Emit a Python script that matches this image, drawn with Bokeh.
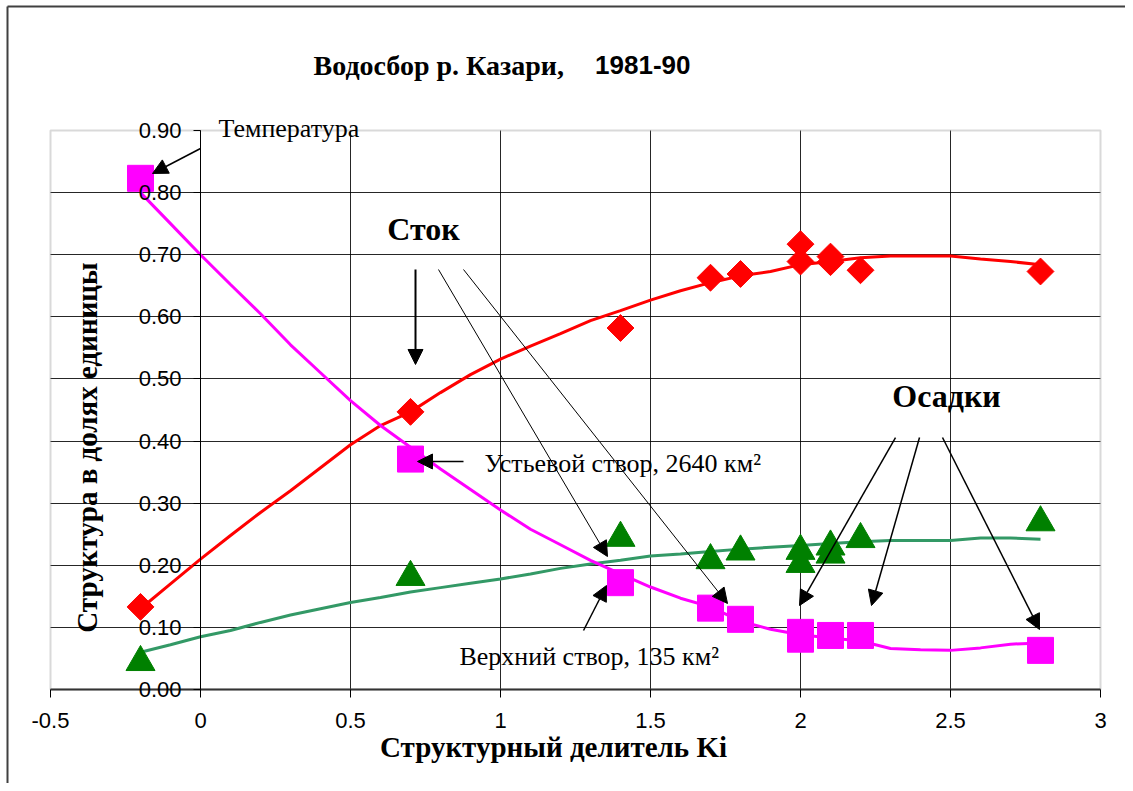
import math
from bokeh.plotting import figure
from bokeh.models import (Range1d, FixedTicker, Label, Arrow, NormalHead,
                          BoxAnnotation, LinearAxis)
from bokeh.embed import file_html
from bokeh.resources import INLINE

# ---------------- data ----------------
x_ticks = [-0.5, 0, 0.5, 1, 1.5, 2, 2.5, 3]
x_tick_labels = ["-0.5", "0", "0.5", "1", "1.5", "2", "2.5", "3"]
y_ticks = [0.0, 0.1, 0.2, 0.3, 0.4, 0.5, 0.6, 0.7, 0.8, 0.9]
y_tick_labels = ["0.00", "0.10", "0.20", "0.30", "0.40", "0.50",
                 "0.60", "0.70", "0.80", "0.90"]

# Сток (runoff) points
stok_x = [-0.2, 0.7, 1.4, 1.7, 1.8, 2.0, 2.0, 2.1, 2.1, 2.2, 2.8]
stok_y = [0.133, 0.447, 0.582, 0.663, 0.669, 0.717, 0.689, 0.697, 0.688, 0.675, 0.673]
# Температура points
temp_x = [-0.2, 0.7, 1.4, 1.7, 1.8, 2.0, 2.0, 2.1, 2.2, 2.8]
temp_y = [0.823, 0.371, 0.172, 0.131, 0.113, 0.092, 0.081, 0.087, 0.087, 0.063]
# Осадки points
osad_x = [-0.2, 0.7, 1.4, 1.7, 1.8, 2.0, 2.0, 2.1, 2.1, 2.2, 2.8]
osad_y = [0.044, 0.181, 0.244, 0.208, 0.222, 0.223, 0.202, 0.230, 0.217, 0.242, 0.269]

# smoothed trend curves
trend_x = [-0.2, -0.1, 0.0, 0.1, 0.2, 0.3, 0.4, 0.5, 0.6, 0.7, 0.8, 0.9, 1.0,
           1.1, 1.2, 1.3, 1.4, 1.5, 1.6, 1.7, 1.8, 1.9, 2.0, 2.1, 2.2, 2.3,
           2.4, 2.5, 2.6, 2.7, 2.8]
stok_trend = [0.13, 0.17, 0.21, 0.248, 0.285, 0.32, 0.357, 0.394, 0.425, 0.447,
              0.478, 0.507, 0.532, 0.553, 0.573, 0.594, 0.61, 0.627, 0.642, 0.655,
              0.666, 0.673, 0.684, 0.689, 0.695, 0.698, 0.698, 0.698, 0.693,
              0.689, 0.684]
temp_trend = [0.80, 0.75, 0.70, 0.652, 0.605, 0.555, 0.51, 0.465, 0.425, 0.39,
              0.355, 0.322, 0.289, 0.258, 0.233, 0.208, 0.186, 0.165, 0.147,
              0.133, 0.11, 0.097, 0.088, 0.083, 0.078, 0.066, 0.064, 0.063,
              0.067, 0.073, 0.075]
osad_trend = [0.06, 0.072, 0.085, 0.095, 0.108, 0.12, 0.13, 0.14, 0.148, 0.157,
              0.164, 0.171, 0.178, 0.186, 0.195, 0.202, 0.208, 0.215, 0.218,
              0.222, 0.226, 0.229, 0.232, 0.235, 0.238, 0.24, 0.24, 0.24,
              0.244, 0.244, 0.242]

# ---------------- figure ----------------
SERIF = "Liberation Serif"
SANS = "Liberation Sans"

W, H = 1125, 783
# plot area in canvas pixels: x -0.5..3 -> 50..1100, y 0..0.9 -> 689..130
PX_X = 1050 / 3.5
PX_Y = 559 / 0.9
x_lo, x_hi = -0.5 - 50 / PX_X, 3 + (W - 1100) / PX_X
y_lo, y_hi = -(H - 689) / PX_Y, 0.9 + 130 / PX_Y

p = figure(width=W, height=H, x_range=Range1d(x_lo, x_hi), y_range=Range1d(y_lo, y_hi),
           output_backend="svg", toolbar_location=None, y_axis_location=None,
           min_border=0)
p.background_fill_color = "white"
p.border_fill_color = "white"
p.outline_line_color = None

# grids (interior lines only; the plot-area border is drawn separately)
p.xgrid.ticker = FixedTicker(ticks=x_ticks[1:-1])
p.ygrid.ticker = FixedTicker(ticks=y_ticks[1:-1])
for g in (p.xgrid, p.ygrid):
    g.grid_line_color = "black"
    g.grid_line_alpha = 0.85
    g.grid_line_width = 1
p.xgrid.cross_bounds = (0, 0.9)
p.ygrid.cross_bounds = (-0.5, 3)

# plot-area border
p.add_layout(BoxAnnotation(left=-0.5, right=3, bottom=0, top=0.9, fill_color=None,
                           line_color="#808080", line_width=2, level="underlay"))

# x axis (at y = 0)
xa = p.xaxis[0]
xa.fixed_location = 0
xa.bounds = (-0.5, 3)
xa.ticker = FixedTicker(ticks=x_ticks)
xa.major_label_overrides = dict(zip(x_ticks, x_tick_labels))
xa.axis_line_color = "#333333"
xa.axis_line_width = 2
xa.major_tick_out = 8
xa.major_tick_in = 0
xa.major_tick_line_color = "black"
xa.minor_tick_line_color = None
xa.major_label_text_font = SANS
xa.major_label_text_font_size = "22px"
xa.major_label_text_color = "black"
xa.major_label_standoff = 15

# y axis crossing at x = 0
ya = LinearAxis(fixed_location=0, ticker=FixedTicker(ticks=y_ticks), bounds=(0, 0.9))
ya.major_label_overrides = dict(zip(y_ticks, y_tick_labels))
ya.axis_line_color = "black"
ya.axis_line_width = 1
ya.major_tick_out = 7
ya.major_tick_in = 0
ya.major_tick_line_color = "black"
ya.minor_tick_line_color = None
ya.major_label_text_font = SANS
ya.major_label_text_font_size = "22px"
ya.major_label_text_color = "black"
ya.major_label_standoff = 12
p.add_layout(ya, "left")

# trend lines
p.line(trend_x, stok_trend, line_color="#ff0000", line_width=3)
p.line(trend_x, osad_trend, line_color="#339966", line_width=3)
p.line(trend_x, temp_trend, line_color="#ff00ff", line_width=3)

# markers
p.scatter(stok_x, stok_y, marker="square", size=19, angle=math.pi / 4,
          fill_color="#ff0000", line_color="#ff0000")
p.scatter(osad_x, osad_y, marker="triangle", size=29,
          fill_color="#008000", line_color="#008000")
p.scatter(temp_x, temp_y, marker="square", size=26,
          fill_color="#ff00ff", line_color="#ff00ff")

# outer chart border (only left and top edges are inside the picture)
bx = -0.5 - 43 / PX_X
by = 0.9 + 124 / PX_Y
p.add_layout(Arrow(x_start=bx, y_start=y_lo, x_end=bx, y_end=by, end=None,
                   line_color="#404040", line_width=2))
p.add_layout(Arrow(x_start=bx, y_start=by, x_end=x_hi, y_end=by, end=None,
                   line_color="#404040", line_width=2))


def lab(x, y, text, font=SERIF, size="26px", bold=False, align="left",
        baseline="middle", angle=0.0):
    p.add_layout(Label(x=x, y=y, text=text, text_font=font, text_font_size=size,
                       text_font_style="bold" if bold else "normal",
                       text_align=align, text_baseline=baseline, angle=angle,
                       text_color="black"))


# title
lab(0.3767, 1.0047, "Водосбор р. Казари,", size="28px", bold=True)
lab(1.6333, 1.0047, "1981-90", font=SANS, size="26px", bold=True, align="right")

# axis titles
lab(1.1767, -0.0918, "Структурный делитель Ki", size="29px", bold=True, align="center")
lab(-0.38, 0.3896, "Структура в долях единицы", size="29px", bold=True,
    align="center", angle=math.pi / 2)

# annotations
lab(0.06, 0.9032, "Температура", size="26px")
lab(0.7433, 0.7422, "Сток", size="32px", bold=True, align="center")
lab(2.4867, 0.4733, "Осадки", size="32px", bold=True, align="center")
lab(0.9467, 0.3639, "Устьевой створ, 2640 км²", size="26px")
lab(0.8633, 0.0531, "Верхний створ, 135 км²", size="26px")

arrows = [
    ((0.0, 0.871), (-0.16, 0.8308), 1.5),
    ((0.7167, 0.6762), (0.7167, 0.5233), 2),
    ((0.7933, 0.6762), (1.3567, 0.2141), 1),
    ((0.8767, 0.6762), (1.7567, 0.1385), 1),
    ((2.3167, 0.4057), (1.9967, 0.1352), 1.5),
    ((2.3967, 0.4057), (2.2367, 0.1352), 1.5),
    ((2.4733, 0.4057), (2.7967, 0.0966), 1.5),
    ((0.8767, 0.3671), (0.7233, 0.3671), 1.5),
    ((1.2767, 0.095), (1.3533, 0.1674), 1.5),
]
for (x0, y0), (x1, y1), w in arrows:
    p.add_layout(Arrow(x_start=x0, y_start=y0, x_end=x1, y_end=y1,
                       line_color="black", line_width=w,
                       end=NormalHead(size=15, fill_color="black",
                                      line_color="black", line_width=1)))

open("out.html", "w").write(file_html(p, INLINE))
